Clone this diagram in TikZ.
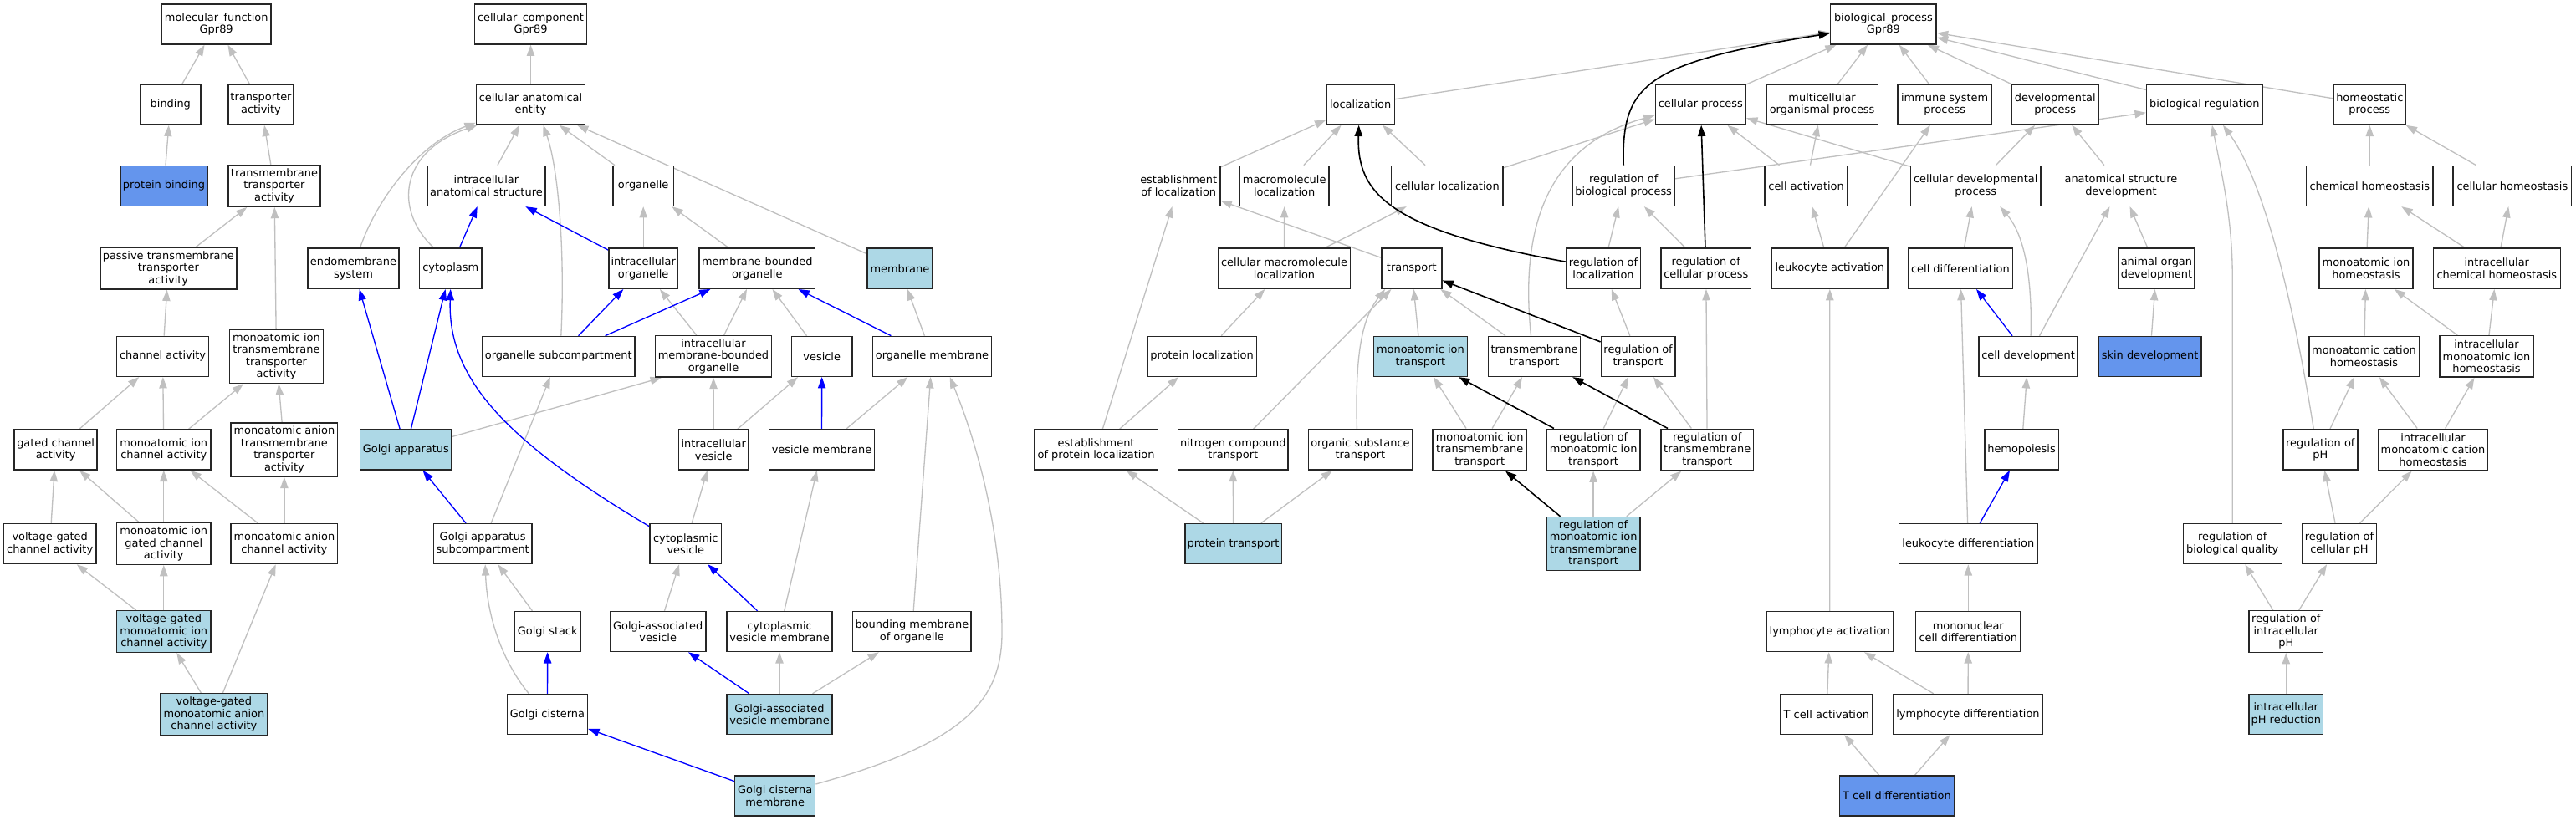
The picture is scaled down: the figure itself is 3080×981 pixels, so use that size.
\documentclass[tikz,border=0pt]{standalone}
\usepackage{fontspec}
\setmainfont{DejaVu Sans}
\usetikzlibrary{arrows.meta,calc}
\definecolor{lb}{HTML}{ADD8E6}
\definecolor{cb}{HTML}{6495ED}
\definecolor{eg}{HTML}{C0C0C0}
\pgfdeclarelayer{edges}
\pgfsetlayers{edges,main}
\begin{document}
\begin{tikzpicture}[x=0.75pt,y=-0.75pt,
  box/.style={draw=black!85, line width=1.1pt, fill=white, align=center, inner sep=1pt,
    font=\fontsize{9.7}{10.9}\selectfont},
  sz/.style 2 args={minimum width=#1*0.75pt, minimum height=#2*0.75pt},
  hl/.style={fill=lb},
  hc/.style={fill=cb},
  ge/.style={draw=eg, line width=1pt, -{Triangle[length=10pt,width=7pt]}},
  be/.style={draw=blue, line width=1pt, -{Triangle[length=10pt,width=7pt]}},
  ke/.style={draw=black, line width=1.2pt, -{Triangle[length=10pt,width=7pt]}}
]
\useasboundingbox (0,0) rectangle (3080,981);
% ---------------- molecular function
\node[box, sz={131}{48}] (mf) at (258.7,28.9) {molecular\_function\\Gpr89};
\node[box, sz={72.4}{48}] (bind) at (203.8,125) {binding};
\node[box, sz={78.1}{48}] (ta) at (312,125) {transporter\\activity};
\node[box, hc, sz={104.1}{48}] (pb) at (196,222.4) {protein binding};
\node[box, sz={110.2}{49.5}] (tta) at (328,222.4) {transmembrane\\transporter\\activity};
\node[box, sz={163}{49.5}] (ptta) at (201.3,321.2) {passive transmembrane\\transporter\\activity};
\node[box, sz={109.8}{48}] (chact) at (194.6,426.4) {channel activity};
\node[box, sz={112.1}{64}] (mitta) at (330.5,426.4) {monoatomic ion\\transmembrane\\transporter\\activity};
\node[box, sz={98.8}{48}] (gca) at (66.6,538) {gated channel\\activity};
\node[box, sz={112.1}{48}] (mica) at (195.8,538) {monoatomic ion\\channel activity};
\node[box, sz={127.7}{64}] (matta) at (339.9,538) {monoatomic anion\\transmembrane\\transporter\\activity};
\node[box, sz={110.2}{48}] (vgca) at (59.7,650.5) {voltage-gated\\channel activity};
\node[box, sz={112.1}{49.5}] (migca) at (195.8,650.5) {monoatomic ion\\gated channel\\activity};
\node[box, sz={127.7}{48}] (maca) at (339.9,650.5) {monoatomic anion\\channel activity};
\node[box, hl, sz={112.1}{49.5}] (vgmica) at (195.8,755.5) {voltage-gated\\monoatomic ion\\channel activity};
\node[box, hl, sz={128.3}{49.5}] (vgmaca) at (255.9,854.5) {voltage-gated\\monoatomic anion\\channel activity};
% ---------------- cellular component
\node[box, sz={134.1}{48}] (cc) at (634.5,28.9) {cellular\_component\\Gpr89};
\node[box, sz={130.1}{48}] (cae) at (634.5,125) {cellular anatomical\\entity};
\node[box, sz={140.9}{48}] (ias) at (581.4,222.4) {intracellular\\anatomical structure};
\node[box, sz={72.3}{48}] (org) at (769.2,222.4) {organelle};
\node[box, sz={109.4}{48}] (ems) at (422.5,321.2) {endomembrane\\system};
\node[box, sz={74.7}{48}] (cyt) at (538.7,321.2) {cytoplasm};
\node[box, sz={82.8}{48}] (io) at (769.2,321.2) {intracellular\\organelle};
\node[box, sz={138.8}{48}] (mbo) at (905.3,321.2) {membrane-bounded\\organelle};
\node[box, hl, sz={77.6}{48}] (mem) at (1075.9,321.2) {membrane};
\node[box, sz={182.1}{48}] (osc) at (667.8,426.4) {organelle subcompartment};
\node[box, sz={138.7}{49.5}] (imbo) at (853,426.4) {intracellular\\membrane-bounded\\organelle};
\node[box, sz={72.3}{48}] (ves) at (982.7,426.4) {vesicle};
\node[box, sz={142.4}{48}] (om) at (1114.5,426.4) {organelle membrane};
\node[box, hl, sz={109.5}{48}] (ga) at (485.3,538) {Golgi apparatus};
\node[box, sz={83.7}{48}] (iv) at (853.2,538) {intracellular\\vesicle};
\node[box, sz={125.7}{48}] (vm) at (982.5,538) {vesicle membrane};
\node[box, sz={117.3}{48}] (gas) at (577.2,650.5) {Golgi apparatus\\subcompartment};
\node[box, sz={85.3}{48}] (cv) at (819.8,650.5) {cytoplasmic\\vesicle};
\node[box, sz={78.4}{48}] (gs) at (654.7,755.5) {Golgi stack};
\node[box, sz={114.7}{48}] (gav) at (786.7,755.5) {Golgi-associated\\vesicle};
\node[box, sz={126.1}{48}] (cvm) at (932,755.5) {cytoplasmic\\vesicle membrane};
\node[box, sz={141.6}{48}] (bmo) at (1090.4,755.5) {bounding membrane\\of organelle};
\node[box, sz={95.9}{48}] (gc) at (654.5,854.5) {Golgi cisterna};
\node[box, hl, sz={126.1}{48}] (gavm) at (932,854.5) {Golgi-associated\\vesicle membrane};
\node[box, hl, sz={95.9}{48}] (gcm) at (926.7,952) {Golgi cisterna\\membrane};
% ---------------- biological process
\node[box, sz={126.5}{48}] (bp) at (2251.9,28.9) {biological\_process\\Gpr89};
\node[box, sz={81.2}{48}] (loc) at (1626.7,125) {localization};
\node[box, sz={108.1}{48}] (cp) at (2033.3,125) {cellular process};
\node[box, sz={133.5}{48}] (mop) at (2178.6,125) {multicellular\\organismal process};
\node[box, sz={112.2}{48}] (isp) at (2325.1,125) {immune system\\process};
\node[box, sz={103.7}{48}] (dp) at (2457.2,125) {developmental\\process};
\node[box, sz={138.8}{48}] (breg) at (2635.9,125) {biological regulation};
\node[box, sz={86.1}{48}] (hp) at (2833.3,125) {homeostatic\\process};
\node[box, sz={99.2}{48}] (eloc) at (1409.2,222.4) {establishment\\of localization};
\node[box, sz={106.6}{48}] (mloc) at (1535.7,222.4) {macromolecule\\localization};
\node[box, sz={133.4}{48}] (cloc) at (1730.4,222.4) {cellular localization};
\node[box, sz={122.4}{48}] (rbp) at (1941.2,222.4) {regulation of\\biological process};
\node[box, sz={98.8}{48}] (cact) at (2159.6,222.4) {cell activation};
\node[box, sz={155.5}{48}] (cdp) at (2362.2,222.4) {cellular developmental\\process};
\node[box, sz={141.2}{48}] (asd) at (2535.9,222.4) {anatomical structure\\development};
\node[box, sz={151.4}{48}] (chh) at (2833.3,222.4) {chemical homeostasis};
\node[box, sz={141.6}{48}] (ceh) at (3003.9,222.4) {cellular homeostasis};
\node[box, sz={158.4}{48}] (cml) at (1535.5,321.2) {cellular macromolecule\\localization};
\node[box, sz={71.9}{48}] (tr) at (1687.8,321.2) {transport};
\node[box, sz={88.5}{48}] (rol) at (1917,321.2) {regulation of\\localization};
\node[box, sz={107.4}{48}] (rcp) at (2039.8,321.2) {regulation of\\cellular process};
\node[box, sz={138.7}{48}] (lact) at (2187.8,321.2) {leukocyte activation};
\node[box, sz={125.3}{48}] (cdiff) at (2343.9,321.2) {cell differentiation};
\node[box, sz={91.4}{48}] (aod) at (2578.4,321.2) {animal organ\\development};
\node[box, sz={111.9}{48}] (mih) at (2829,321.2) {monoatomic ion\\homeostasis};
\node[box, sz={151.8}{48}] (ich) at (2985.3,321.2) {intracellular\\chemical homeostasis};
\node[box, sz={130.6}{48}] (ploc) at (1437.1,426.4) {protein localization};
\node[box, hl, sz={111.9}{48}] (mit) at (1698.4,426.4) {monoatomic ion\\transport};
\node[box, sz={109.8}{48}] (tt) at (1834.5,426.4) {transmembrane\\transport};
\node[box, sz={88.6}{48}] (rot) at (1958.6,426.4) {regulation of\\transport};
\node[box, sz={118}{48}] (cdev) at (2425.1,426.4) {cell development};
\node[box, hc, sz={122.4}{48}] (skin) at (2570.6,426.4) {skin development};
\node[box, sz={131.4}{48}] (mch) at (2826.5,426.4) {monoatomic cation\\homeostasis};
\node[box, sz={111.9}{49.5}] (imih) at (2973,426.4) {intracellular\\monoatomic ion\\homeostasis};
\node[box, sz={147.8}{48}] (epl) at (1310.6,538) {establishment\\of protein localization};
\node[box, sz={131.4}{48}] (nct) at (1474.3,538) {nitrogen compound\\transport};
\node[box, sz={123.7}{48}] (ost) at (1626.4,538) {organic substance\\transport};
\node[box, sz={112.3}{49.5}] (mitt) at (1769.2,538) {monoatomic ion\\transmembrane\\transport};
\node[box, sz={112.2}{49.5}] (rmit) at (1905.1,538) {regulation of\\monoatomic ion\\transport};
\node[box, sz={110.2}{49.5}] (rtt) at (2041.2,538) {regulation of\\transmembrane\\transport};
\node[box, sz={88.5}{48}] (hemo) at (2417,538) {hemopoiesis};
\node[box, sz={89}{48}] (rph) at (2774.3,538) {regulation of\\pH};
\node[box, sz={131.4}{49.5}] (imch) at (2909,538) {intracellular\\monoatomic cation\\homeostasis};
\node[box, hl, sz={115.5}{48}] (pt) at (1474.5,650.5) {protein transport};
\node[box, hl, sz={112.2}{64}] (rmitt) at (1905.1,650.5) {regulation of\\monoatomic ion\\transmembrane\\transport};
\node[box, sz={166.1}{48}] (ldiff) at (2353.3,650.5) {leukocyte differentiation};
\node[box, sz={118}{48}] (rbq) at (2669.2,650.5) {regulation of\\biological quality};
\node[box, sz={88.5}{48}] (rcph) at (2797,650.5) {regulation of\\cellular pH};
\node[box, sz={151.9}{48}] (lyact) at (2187.7,755.5) {lymphocyte activation};
\node[box, sz={125.3}{48}] (mcd) at (2353.3,755.5) {mononuclear\\cell differentiation};
\node[box, sz={88.6}{49.5}] (rip) at (2733.3,755.5) {regulation of\\intracellular\\pH};
\node[box, sz={109.8}{48}] (tca) at (2183.9,854.5) {T cell activation};
\node[box, sz={178.7}{48}] (lyd) at (2353,854.5) {lymphocyte differentiation};
\node[box, hl, sz={88.6}{48}] (iphr) at (2733.3,854.5) {intracellular\\pH reduction};
\node[box, hc, sz={136.7}{48}] (tcd) at (2268,952) {T cell differentiation};

\begin{pgfonlayer}{edges}
% ---- gray: molecular function
\draw[ge] (bind) -- (mf);
\draw[ge] (ta) -- (mf);
\draw[ge] (pb) -- (bind);
\draw[ge] (tta) -- (ta);
\draw[ge] (ptta) -- (tta);
\draw[ge] (mitta) -- (tta);
\draw[ge] (chact) -- (ptta);
\draw[ge] (gca) -- (chact);
\draw[ge] (mica) -- (chact);
\draw[ge] (mica) -- (mitta);
\draw[ge] (matta) -- (mitta);
\draw[ge] (vgca) -- (gca);
\draw[ge] (migca) -- (gca);
\draw[ge] (migca) -- (mica);
\draw[ge] (maca) -- (mica);
\draw[ge] (maca) -- (matta);
\draw[ge] (vgmica) -- (vgca);
\draw[ge] (vgmica) -- (migca);
\draw[ge] (vgmaca) -- (vgmica);
\draw[ge] (vgmaca) -- (maca);
% ---- gray: cellular component
\draw[ge] (cae) -- (cc);
\draw[ge] (ias) -- (cae);
\draw[ge] (org) -- (cae);
\draw[ge] (mem) -- (cae);
\draw[ge] ($(osc.north)+(3,0)$) .. controls +(5,-102) and +(18,51) .. ($(cae.south)+(15,0)$);
\draw[ge] ($(ems.north)+(8,0)$) .. controls +(19.5,-56.7) and +(-69.5,26) .. ($(cae.south west)+(0,-3)$);
\draw[ge] ($(cyt.north west)+(18,0)$) .. controls +(-49.3,-46.7) and +(-91.5,31) .. ($(cae.south west)+(2,0)$);
\draw[ge] (io) -- (org);
\draw[ge] (mbo) -- (org);
\draw[ge] (imbo) -- (io);
\draw[ge] (imbo) -- (mbo);
\draw[ge] (ves) -- (mbo);
\draw[ge] (om) -- (mem);
\draw[ge] (ga) -- ($(imbo.south west)+(8,0)$);
\draw[ge] (gas) -- (osc);
\draw[ge] (iv) -- (imbo);
\draw[ge] (iv) -- (ves);
\draw[ge] (vm) -- (om);
\draw[ge] (cv) -- (iv);
\draw[ge] (gs) -- (gas);
\draw[ge] ($(gc.north west)+(26.5,0)$) .. controls +(-33,-40) and +(2,60) .. ($(gas.south)+(3,0)$);
\draw[ge] (gav) -- (cv);
\draw[ge] (cvm) -- (vm);
\draw[ge] (bmo) -- (om);
\draw[ge] (gavm) -- (cvm);
\draw[ge] (gavm) -- (bmo);
\draw[ge] ($(gcm.east)+(0,-14)$) .. controls (1150,890) and (1198,840) .. (1198,757)
   .. controls (1198,620) and (1160,510) .. ($(om.south east)+(-50.7,0)$);
% ---- gray: biological process
\draw[ge] (loc) -- (bp);
\draw[ge] (cp) -- (bp);
\draw[ge] (mop) -- (bp);
\draw[ge] (isp) -- (bp);
\draw[ge] (dp) -- (bp);
\draw[ge] (breg) -- (bp);
\draw[ge] (hp) -- (bp);
\draw[ge] (eloc) -- (loc);
\draw[ge] (mloc) -- (loc);
\draw[ge] (cloc) -- (loc);
\draw[ge] (cloc) -- (cp);
\draw[ge] (rbp) -- (breg);
\draw[ge] (cact) -- (cp);
\draw[ge] (cact) -- (mop);
\draw[ge] (cdp) -- (cp);
\draw[ge] (cdp) -- (dp);
\draw[ge] (asd) -- (dp);
\draw[ge] (chh) -- (hp);
\draw[ge] (ceh) -- (hp);
\draw[ge] (cml) -- (mloc);
\draw[ge] (cml) -- (cloc);
\draw[ge] (tr) -- (eloc);
\draw[ge] (rol) -- (rbp);
\draw[ge] (rcp) -- (rbp);
\draw[ge] (lact) -- (cact);
\draw[ge] (lact) -- (isp);
\draw[ge] (cdiff) -- (cdp);
\draw[ge] (aod) -- (asd);
\draw[ge] (mih) -- (chh);
\draw[ge] (ich) -- (chh);
\draw[ge] (ich) -- (ceh);
\draw[ge] (ploc) -- (cml);
\draw[ge] (mit) -- (tr);
\draw[ge] (tt) -- (tr);
\draw[ge] ($(tt.north)+(-4,0)$) .. controls +(-12.5,-121.7) and +(-134.2,37) .. ($(cp.west)+(0,13)$);
\draw[ge] (rot) -- (rol);
\draw[ge] (cdev) -- (asd);
\draw[ge] ($(cdev.north)+(3,0)$) .. controls +(1.9,-71.7) and +(28.8,33.3) .. ($(cdp.south)+(29,0)$);
\draw[ge] (skin) -- (aod);
\draw[ge] (mch) -- (mih);
\draw[ge] (imih) -- (mih);
\draw[ge] (imih) -- (ich);
\draw[ge] (epl) -- (eloc);
\draw[ge] (epl) -- (ploc);
\draw[ge] (nct) -- (tr);
\draw[ge] ($(ost.north)+(-4,0)$) .. controls +(-2.4,-94) and +(-26.8,34.3) .. ($(tr.south west)+(5,0)$);
\draw[ge] (mitt) -- (mit);
\draw[ge] (mitt) -- (tt);
\draw[ge] (rmit) -- (rot);
\draw[ge] (rtt) -- (rot);
\draw[ge] (rtt) -- (rcp);
\draw[ge] (hemo) -- (cdev);
\draw[ge] (rph) -- (mch);
\draw[ge] ($(rph.north)+(-8,0)$) .. controls +(-21.3,-134) and +(52.1,71) .. ($(breg.south)+(22,0)$);
\draw[ge] (imch) -- (mch);
\draw[ge] (imch) -- (imih);
\draw[ge] (pt) -- (epl);
\draw[ge] (pt) -- (nct);
\draw[ge] (pt) -- (ost);
\draw[ge] (rmitt) -- (rmit);
\draw[ge] (rmitt) -- (rtt);
\draw[ge] (ldiff) -- (cdiff);
\draw[ge] (rbq.north) -- ++(0,-296) .. controls +(0,-70) and +(10,51) .. ($(breg.south)+(9,0)$);
\draw[ge] (rcph) -- (rph);
\draw[ge] (rcph) -- (imch);
\draw[ge] (rip) -- (rbq);
\draw[ge] (rip) -- (rcph);
\draw[ge] (iphr) -- (rip);
\draw[ge] (lyact) -- (lact);
\draw[ge] (mcd) -- (ldiff);
\draw[ge] (tca) -- (lyact);
\draw[ge] (lyd) -- (lyact);
\draw[ge] (lyd) -- (mcd);
\draw[ge] (tcd) -- (tca);
\draw[ge] (tcd) -- (lyd);
% ---- blue
\draw[be] (cyt) -- (ias);
\draw[be] (io) -- (ias);
\draw[be] (osc) -- (io);
\draw[be] (osc) -- (mbo);
\draw[be] (om) -- (mbo);
\draw[be] (ga) -- (ems);
\draw[be] (ga) -- (cyt);
\draw[be] ($(cv.north west)+(0,4)$) .. controls +(-177,-105) and +(-3.7,104) .. (cyt.south);
\draw[be] (gas) -- (ga);
\draw[be] (vm) -- (ves);
\draw[be] (cvm) -- (cv);
\draw[be] (gc) -- (gs);
\draw[be] (gavm) -- (gav);
\draw[be] (gcm) -- (gc);
\draw[be] (cdev) -- (cdiff);
\draw[be] (ldiff) -- (hemo);
% ---- black
\draw[ke] (rbp.north) .. controls +(-3,-98) and +(-218.6,35) .. ($(bp.west)+(0,11)$);
\draw[ke] ($(rol.west)+(0,-8)$) .. controls +(-212.7,-38.5) and +(-2.7,81) .. ($(loc.south)+(-2,0)$);
\draw[ke] (rcp) -- (cp);
\draw[ke] (rot) -- (tr);
\draw[ke] (rmit) -- (mit);
\draw[ke] (rtt) -- (tt);
\draw[ke] (rmitt) -- (mitt);
\end{pgfonlayer}
\end{tikzpicture}
\end{document}
